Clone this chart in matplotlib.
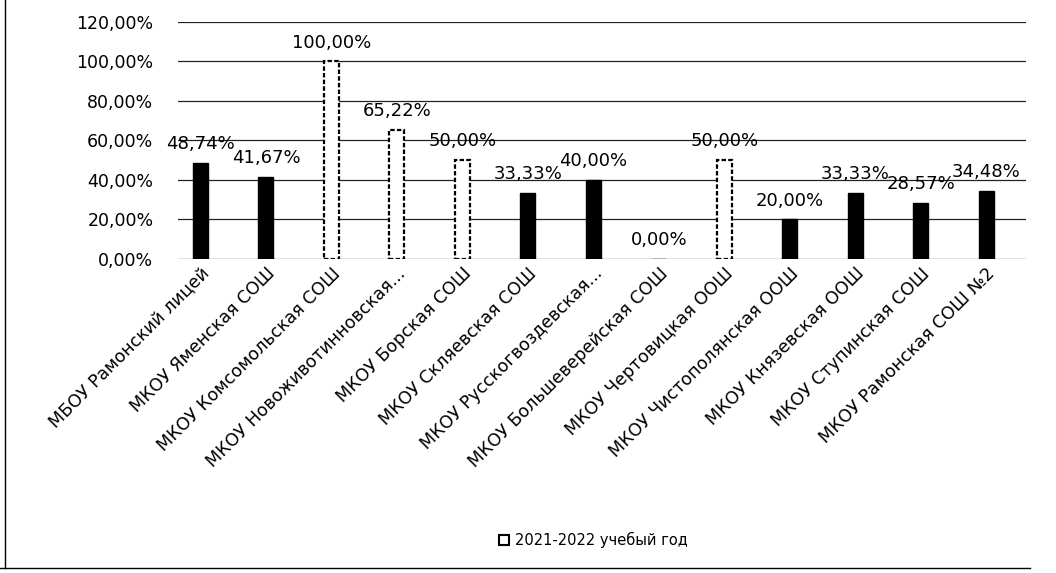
import matplotlib
matplotlib.use("Agg")
import matplotlib.pyplot as plt
from matplotlib.lines import Line2D
from matplotlib.patches import Patch

plt.rcParams['font.family'] = ['DejaVu Sans']

categories = [
    "МБОУ Рамонский лицей",
    "МКОУ Яменская СОШ",
    "МКОУ Комсомольская СОШ",
    "МКОУ Новоживотинновская...",
    "МКОУ Борская СОШ",
    "МКОУ Скляевская СОШ",
    "МКОУ Русскогвоздевская...",
    "МКОУ Большеверейская СОШ",
    "МКОУ Чертовицкая ООШ",
    "МКОУ Чистополянская ООШ",
    "МКОУ Князевская ООШ",
    "МКОУ Ступинская СОШ",
    "МКОУ Рамонская СОШ №2",
]
values = [48.74, 41.67, 100.00, 65.22, 50.00, 33.33, 40.00, 0.00, 50.00, 20.00, 33.33, 28.57, 34.48]
hollow = [False, False, True, True, True, False, False, False, True, False, False, False, False]
series_name = "2021-2022 учебый год"
yticks = [0, 20, 40, 60, 80, 100, 120]

fig = plt.figure(figsize=(10.56, 5.73), dpi=100)
ax = fig.add_axes([0.169, 0.548, 0.803, 0.414])

x = list(range(len(categories)))
for xi, v, h in zip(x, values, hollow):
    if h:
        ax.bar(xi, v, width=0.23, facecolor='white', edgecolor='black',
               linewidth=1.6, linestyle=(0, (2, 1)), zorder=3)
    else:
        ax.bar(xi, v, width=0.23, facecolor='black', edgecolor='black', zorder=3)
    ax.annotate(f"{v:.2f}%".replace('.', ','), (xi, v), xytext=(0, 7),
                textcoords='offset points', ha='center', va='bottom',
                fontsize=13, color='black', zorder=4)

ax.set_ylim(0, 120)
ax.set_xlim(-0.336, 12.615)
ax.set_yticks(yticks)
ax.set_yticklabels([f"{t:.2f}%".replace('.', ',') for t in yticks], fontsize=12.5)
ax.yaxis.grid(True, color='#222222', linewidth=0.9, zorder=0)
ax.set_axisbelow(True)
for s in ax.spines.values():
    s.set_visible(False)
ax.tick_params(axis='both', length=0)
ax.tick_params(axis='y', pad=18)
ax.tick_params(axis='x', pad=4)
ax.set_xticks(x)
ax.set_xticklabels(categories, rotation=45, ha='right', rotation_mode='anchor',
                   fontsize=12.5)

handle = Patch(facecolor='white', edgecolor='black', linewidth=1.5)
fig.legend([handle], [series_name], loc='center', bbox_to_anchor=(0.562, 0.057),
           frameon=False, fontsize=10.5, handlelength=0.7, handleheight=0.7,
           handletextpad=0.4)

fig.add_artist(Line2D([0.005, 0.005], [0.008, 1.0], color='black', linewidth=1,
                      transform=fig.transFigure))
fig.add_artist(Line2D([0.0, 0.975], [0.008, 0.008], color='black', linewidth=1,
                      transform=fig.transFigure))

fig.savefig("out.png", dpi=100, facecolor='white')
